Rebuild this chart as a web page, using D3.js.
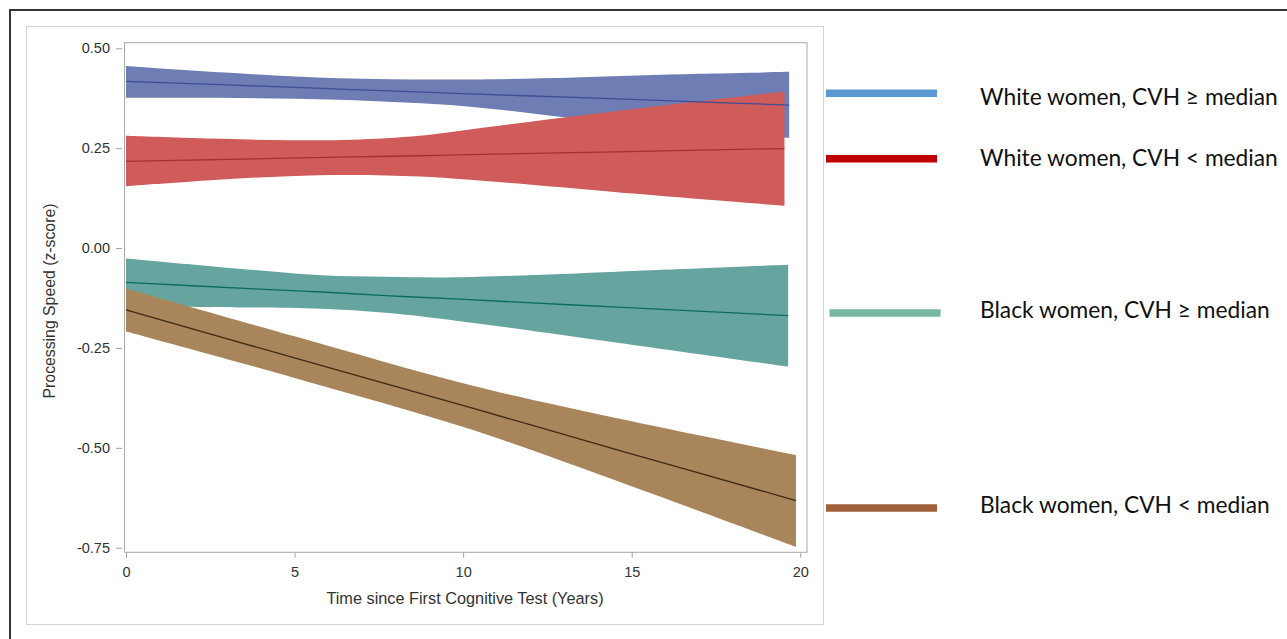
<!DOCTYPE html>
<html>
<head>
<meta charset="utf-8">
<script src="https://cdn.jsdelivr.net/npm/d3@7"></script>
<style>
  html, body { margin: 0; padding: 0; background: #fff; }
  svg { display: block; }
</style>
</head>
<body>
<svg id="chart" width="1287" height="639"></svg>
<script>
// ---------------- DATA ----------------
const seriesNames = [
  "White women, CVH \u2265 median",
  "White women, CVH < median",
  "Black women, CVH \u2265 median",
  "Black women, CVH < median"
];

const xTicks = [0, 5, 10, 15, 20];
const yTicks = [-0.75, -0.5, -0.25, 0, 0.25, 0.5];

// White women, CVH >= median
const whiteHiTime  = [0, 2.8, 6.3, 10.2, 13.3, 17.0, 19.67];
const whiteHiMean  = [0.417, 0.409, 0.398, 0.386, 0.377, 0.366, 0.358];
const whiteHiUpper = [0.456, 0.440, 0.425, 0.422, 0.427, 0.436, 0.441];
const whiteHiLower = [0.376, 0.376, 0.371, 0.354, 0.325, 0.296, 0.276];

// White women, CVH < median
const whiteLoTime  = [0, 2.5, 4.8, 6.7, 8.7, 10.2, 14.56, 19.53];
const whiteLoMean  = [0.217, 0.221, 0.225, 0.228, 0.231, 0.234, 0.241, 0.249];
const whiteLoUpper = [0.281, 0.274, 0.270, 0.271, 0.281, 0.297, 0.343, 0.392];
const whiteLoLower = [0.155, 0.170, 0.180, 0.183, 0.179, 0.171, 0.140, 0.106];

// Black women, CVH >= median
const blackHiTime  = [0, 3.8, 5.8, 7.7, 9.9, 14.57, 19.64];
const blackHiMean  = [-0.086, -0.102, -0.110, -0.119, -0.128, -0.148, -0.169];
const blackHiUpper = [-0.026, -0.055, -0.068, -0.072, -0.073, -0.059, -0.042];
const blackHiLower = [-0.147, -0.149, -0.152, -0.162, -0.183, -0.237, -0.297];

// Black women, CVH < median
const blackLoTime  = [0, 5.0, 10.2, 14.57, 19.87];
const blackLoMean  = [-0.155, -0.275, -0.399, -0.505, -0.632];
const blackLoUpper = [-0.101, -0.221, -0.343, -0.426, -0.518];
const blackLoLower = [-0.209, -0.325, -0.453, -0.583, -0.748];

// ---------------- STYLE ----------------
const bandColors   = ["#6E7DB4", "#CF5B5A", "#66A59F", "#A8855A"];
const lineColors   = ["#3D4E94", "#A23230", "#0B6B62", "#3E2A12"];
const legendColors = ["#5B9BD5", "#C00000", "#76B7A1", "#A0603A"];

const series = [
  { t: whiteHiTime, m: whiteHiMean, u: whiteHiUpper, l: whiteHiLower },
  { t: whiteLoTime, m: whiteLoMean, u: whiteLoUpper, l: whiteLoLower },
  { t: blackHiTime, m: blackHiMean, u: blackHiUpper, l: blackHiLower },
  { t: blackLoTime, m: blackLoMean, u: blackLoUpper, l: blackLoLower }
].map((s, i) => ({
  name: seriesNames[i],
  pts: s.t.map((t, j) => ({ t, m: s.m[j], u: s.u[j], l: s.l[j] }))
}));

// ---------------- LAYOUT ----------------
const svg = d3.select("#chart");
const plot = { left: 124, right: 807, top: 42.7, bottom: 552.3 };

const x = d3.scaleLinear().domain([0, 20]).range([126, 800.3]);
const y = d3.scaleLinear().domain([-0.75, 0.5]).range([547.7, 48.3]);

// outer frame
svg.append("rect").attr("x", 10).attr("y", 10).attr("width", 1290).attr("height", 650)
  .attr("fill", "none").attr("stroke", "#333").attr("stroke-width", 2);
// inner graph frame
svg.append("rect").attr("x", 26.5).attr("y", 26.5).attr("width", 797).attr("height", 598)
  .attr("fill", "#fff").attr("stroke", "#D4D4D4").attr("stroke-width", 1);

// bands
const curve = d3.curveCatmullRom.alpha(0.5);
const area = d3.area().x(d => x(d.t)).y0(d => y(d.l)).y1(d => y(d.u)).curve(curve);
const line = d3.line().x(d => x(d.t)).y(d => y(d.m)).curve(curve);

const g = svg.append("g");
g.selectAll("path.band").data(series).join("path")
  .attr("class", "band")
  .attr("d", d => area(d.pts))
  .attr("fill", (d, i) => bandColors[i]);
g.selectAll("path.mean").data(series).join("path")
  .attr("class", "mean")
  .attr("d", d => line(d.pts))
  .attr("fill", "none")
  .attr("stroke", (d, i) => lineColors[i])
  .attr("stroke-width", 1.3);

// plot frame
svg.append("rect")
  .attr("x", plot.left + 0.5).attr("y", plot.top)
  .attr("width", plot.right - plot.left - 0.5).attr("height", plot.bottom - plot.top)
  .attr("fill", "none").attr("stroke", "#A8A8A8").attr("stroke-width", 1);

// axes
const fontAxis = "'Liberation Sans', Arial, sans-serif";
const yAxis = svg.append("g").attr("transform", "translate(122,0)")
  .call(d3.axisLeft(y).tickValues(yTicks).tickFormat(v => v.toFixed(2)).tickSize(6).tickPadding(6));
const xAxis = svg.append("g").attr("transform", "translate(0,552.7)")
  .call(d3.axisBottom(x).tickValues(xTicks).tickFormat(d3.format("d")).tickSize(5).tickPadding(9));
[yAxis, xAxis].forEach(a => {
  a.select(".domain").remove();
  a.selectAll(".tick line").attr("stroke", "#A0A0A0");
  a.selectAll(".tick text").attr("fill", "#333").style("font-family", fontAxis).style("font-size", "14.5px");
});

// axis titles
svg.append("text")
  .attr("x", 465).attr("y", 604)
  .attr("text-anchor", "middle")
  .style("font-family", fontAxis).style("font-size", "16.3px").attr("fill", "#333")
  .text("Time since First Cognitive Test (Years)");
svg.append("text")
  .attr("transform", "translate(55,301) rotate(-90)")
  .attr("text-anchor", "middle")
  .style("font-family", fontAxis).style("font-size", "15.8px").attr("fill", "#333")
  .text("Processing Speed (z-score)");

// legend
const legendLineY = [93.3, 158.8, 313, 508];
const legendLineX0 = [826, 826, 829.5, 826];
const legendTextY = [105, 166, 318, 513.3];
const leg = svg.append("g");
leg.selectAll("line").data(series).join("line")
  .attr("x1", (d, i) => legendLineX0[i]).attr("x2", (d, i) => legendLineX0[i] + 111)
  .attr("y1", (d, i) => legendLineY[i]).attr("y2", (d, i) => legendLineY[i])
  .attr("stroke", (d, i) => legendColors[i]).attr("stroke-width", 7.5);
const texts = leg.selectAll("text").data(series).join("text")
  .attr("x", 980).attr("y", (d, i) => legendTextY[i])
  .style("font-family", "Lato, 'Open Sans', sans-serif").style("font-size", "22px")
  .attr("fill", "#111")
  .text(d => d.name);
// fit font size so first label spans ~298px (as in the original)
const w0 = texts.node().getComputedTextLength();
const fs = 22 * 298 / w0;
texts.style("font-size", fs.toFixed(2) + "px");
</script>
</body>
</html>
